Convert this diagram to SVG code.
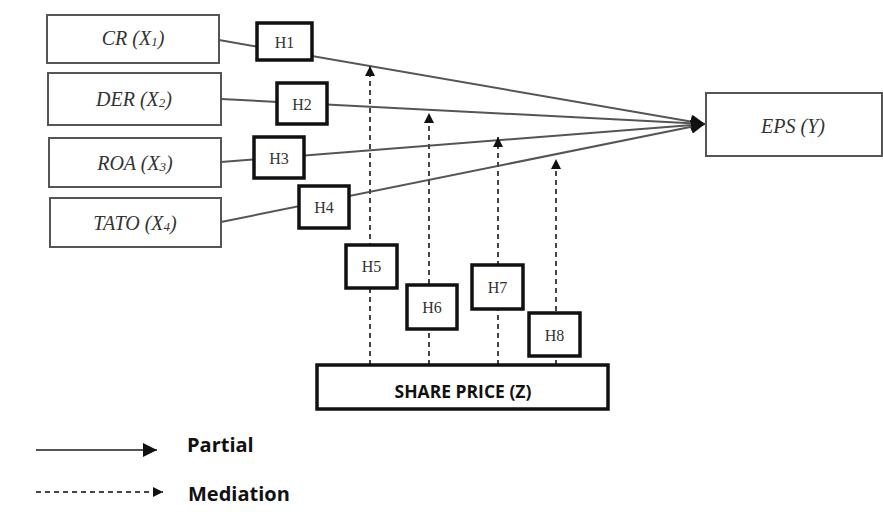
<svg xmlns="http://www.w3.org/2000/svg" width="883" height="523" viewBox="0 0 883 523">
<style>
.var{fill:#fff;stroke:#555;stroke-width:2}
.vt{font-family:"Liberation Serif",serif;font-style:italic;font-size:20px;fill:#333;text-anchor:middle;dominant-baseline:central}
.h{fill:#fff;stroke:#111;stroke-width:3.5}
.ht{font-family:"Liberation Serif",serif;font-size:16px;fill:#333;text-anchor:middle;dominant-baseline:central}
.sol{stroke:#555;stroke-width:2;fill:none}
.dash{stroke:#444;stroke-width:2;stroke-dasharray:5,4;fill:none}
.lg{font-family:"Open Sans","Liberation Sans",sans-serif;font-weight:bold;font-size:20px;fill:#111}
</style>
<defs>
<marker id="ah" viewBox="0 0 10 10" refX="10" refY="5" markerWidth="5" markerHeight="5" orient="auto" markerUnits="strokeWidth">
<path d="M0,0 L10,5 L0,10 z" fill="#111"/>
</marker>
<marker id="ahb" viewBox="0 0 10 10" refX="10" refY="5" markerWidth="7" markerHeight="7" orient="auto" markerUnits="strokeWidth">
<path d="M0,0 L10,5 L0,10 z" fill="#111"/>
</marker>
</defs>
<rect width="883" height="523" fill="#fff"/>
<g id="connectors">
<line class="sol" x1="219" y1="40" x2="705" y2="124" marker-end="url(#ahb)"/>
<line class="sol" x1="221" y1="99" x2="705" y2="124" marker-end="url(#ahb)"/>
<line class="sol" x1="221" y1="162" x2="705" y2="124" marker-end="url(#ahb)"/>
<line class="sol" x1="221" y1="222" x2="705" y2="124" marker-end="url(#ahb)"/>
<line class="dash" x1="370" y1="365" x2="370" y2="66" marker-end="url(#ah)"/>
<line class="dash" x1="429" y1="365" x2="429" y2="113" marker-end="url(#ah)"/>
<line class="dash" x1="498" y1="365" x2="498" y2="137" marker-end="url(#ah)"/>
<line class="dash" x1="556" y1="365" x2="556" y2="159" marker-end="url(#ah)"/>
</g>
<g id="cr"><rect class="var" x="47" y="15" width="172" height="48"/><text class="vt" x="133" y="38">CR (X<tspan font-size="13" dy="3">1</tspan><tspan dy="-3">)</tspan></text></g>
<g id="der"><rect class="var" x="48" y="73" width="173" height="52"/><text class="vt" x="134" y="99">DER (X<tspan font-size="13" dy="3">2</tspan><tspan dy="-3">)</tspan></text></g>
<g id="roa"><rect class="var" x="49" y="138" width="172" height="49"/><text class="vt" x="135" y="163">ROA (X<tspan font-size="13" dy="3">3</tspan><tspan dy="-3">)</tspan></text></g>
<g id="tato"><rect class="var" x="50" y="198" width="171" height="49"/><text class="vt" x="135" y="223">TATO (X<tspan font-size="13" dy="3">4</tspan><tspan dy="-3">)</tspan></text></g>
<g id="eps"><rect class="var" x="706" y="93" width="176" height="63"/><text class="vt" x="793" y="126">EPS (Y)</text></g>
<g id="h1"><rect class="h" x="257" y="23" width="55" height="37"/><text class="ht" x="284.5" y="42">H1</text></g>
<g id="h2"><rect class="h" x="277" y="83" width="50" height="41"/><text class="ht" x="302" y="104">H2</text></g>
<g id="h3"><rect class="h" x="254" y="137" width="50" height="41"/><text class="ht" x="279" y="158">H3</text></g>
<g id="h4"><rect class="h" x="299" y="186" width="50" height="42"/><text class="ht" x="324" y="207">H4</text></g>
<g id="h5"><rect class="h" x="346" y="245" width="51" height="43"/><text class="ht" x="371.5" y="266">H5</text></g>
<g id="h6"><rect class="h" x="407" y="285" width="50" height="44"/><text class="ht" x="432" y="307">H6</text></g>
<g id="h7"><rect class="h" x="472" y="265" width="51" height="44"/><text class="ht" x="497.5" y="287">H7</text></g>
<g id="h8"><rect class="h" x="529" y="313" width="51" height="43"/><text class="ht" x="554.5" y="335">H8</text></g>
<g id="share"><rect class="h" x="317" y="365" width="291" height="44"/><text x="463" y="391" font-family="Open Sans, Liberation Sans, sans-serif" font-weight="bold" font-size="17.5" fill="#111" text-anchor="middle" dominant-baseline="central">SHARE PRICE (Z)</text></g>
<g id="legend">
<line class="sol" x1="36" y1="450" x2="157" y2="450" marker-end="url(#ahb)"/>
<text class="lg" x="187" y="452">Partial</text>
<line class="dash" x1="36" y1="492" x2="163" y2="492" stroke-dasharray="4,3" marker-end="url(#ah)"/>
<text class="lg" x="188" y="501">Mediation</text>
</g>
</svg>
